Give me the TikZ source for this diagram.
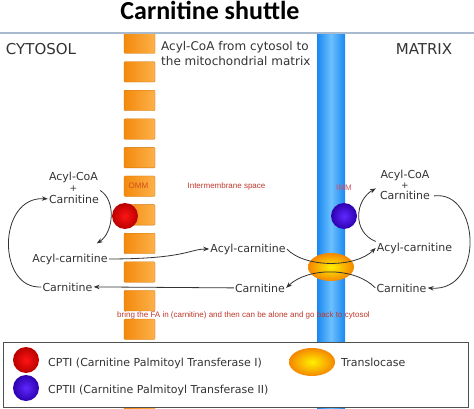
\documentclass[tikz,border=0pt]{standalone}
\usepackage{fontspec}
\setmainfont{DejaVu Sans}
\newfontfamily\titlefont{Carlito}
\newfontfamily\arialfont{Liberation Sans}
\usetikzlibrary{arrows.meta,shapes.geometric}
\definecolor{txt}{HTML}{333333}
\definecolor{redtxt}{HTML}{C0392B}
\definecolor{ommtxt}{HTML}{D0501A}
\definecolor{orangeL}{HTML}{F28A0C}
\definecolor{orangeR}{HTML}{FFB04A}
\definecolor{blueE}{HTML}{1A88F0}
\definecolor{blueM}{HTML}{6CC0FF}
\definecolor{topline}{HTML}{A9B9CE}
\tikzset{
  lbl/.style={anchor=base, inner sep=1pt, text=txt, font=\fontsize{11}{13}\selectfont},
  plus/.style={anchor=base, inner sep=0pt, text=txt, font=\fontsize{9}{10}\selectfont},
  big/.style={anchor=base, inner sep=1pt, text=txt, font=\fontsize{15}{18}\selectfont},
  note/.style={anchor=base west, inner sep=0pt, text=txt, font=\fontsize{12}{15}\selectfont},
  rednote/.style={anchor=base, inner sep=0pt, text=redtxt, font=\arialfont\fontsize{8}{10}\selectfont},
  arr/.style={draw=txt, line width=0.8pt, -{Stealth[length=6pt,width=4.5pt]}},
  sq/.style={left color=orangeL, right color=orangeR, draw=orangeL!85!black, line width=0.3pt, rounded corners=1pt},
  cptone/.style={circle, minimum size=26pt, inner sep=0pt, inner color={rgb,255:red,255;green,20;blue,20}, outer color={rgb,255:red,185;green,0;blue,0}},
  cpttwo/.style={circle, minimum size=26pt, inner sep=0pt, inner color={rgb,255:red,95;green,40;blue,255}, outer color={rgb,255:red,45;green,0;blue,175}},
  transl/.style={ellipse, minimum width=46pt, minimum height=28pt, inner sep=0pt, inner color={rgb,255:red,255;green,240;blue,0}, outer color={rgb,255:red,245;green,135;blue,0}}
}
\begin{document}
\begin{tikzpicture}[x=1pt,y=-1pt]
\useasboundingbox (0,0) rectangle (474,409);
\fill[white] (0,0) rectangle (474,409);
% membranes
\foreach \k in {0,...,13}
  \path[sq] (124,{33+28.6*\k}) rectangle (155,{53.5+28.6*\k});
\shade[left color=blueE, right color=blueE, middle color=blueM] (317,33) rectangle (345,409);
\draw[topline, line width=1.2pt] (0,33) -- (474,33);
% title and headers
\node[anchor=base, inner sep=0pt, font=\titlefont\bfseries\fontsize{26}{30}\selectfont] (title) at (210,19.5) {Carnitine shuttle};
\node[big] (cyto) at (41,55) {CYTOSOL};
\node[big] (matrix) at (424,55) {MATRIX};
\node[note] (note1) at (161,51) {Acyl-CoA from cytosol to};
\node[note] (note2) at (161,66) {the mitochondrial matrix};
% red notes
\node[rednote, text=ommtxt] (omm) at (138.5,188) {OMM};
\node[rednote, text={rgb,255:red,210;green,80;blue,100}] (imm) at (344,190) {IMM};
\node[rednote] (ims) at (226.5,189) {Intermembrane space};
\node[rednote] (bring) at (243.5,317) {bring the FA in (carnitine) and then can be alone and go back to cytosol};
% enzymes
\node[cptone] (cpt1) at (125,216) {};
\node[cpttwo] (cpt2) at (344,216) {};
\node[transl] (trans) at (331,267) {};
% labels left
\node[lbl] (Lacoa) at (73.5,181) {Acyl-CoA};
\node[plus] (Lplus) at (73.5,191.5) {+};
\node[lbl] (Lcarn) at (74,203) {Carnitine};
\node[lbl] (Lacyl) at (70,262) {Acyl-carnitine};
\node[lbl] (Lcarn2) at (67.5,291) {Carnitine};
% labels middle
\node[lbl] (Macyl) at (248,252) {Acyl-carnitine};
\node[lbl] (Mcarn) at (260,292) {Carnitine};
% labels right
\node[lbl] (Racoa) at (405,178.5) {Acyl-CoA};
\node[plus] (Rplus) at (405,189) {+};
\node[lbl] (Rcarn) at (405,200) {Carnitine};
\node[lbl] (Racyl) at (414.5,251) {Acyl-carnitine};
\node[lbl] (Rcarn2) at (401.5,292) {Carnitine};
% arrows
\draw[arr] ([shift={(0,-3)}]Lcarn.north east) .. controls (116,200) and (114,232) .. ([shift={(-12,-9)}]Lacyl.north east);
\draw[arr] (Lcarn2.west) .. controls (-3,290) and (-3,196) .. (Lcarn.west);
\draw[arr] (Lacyl.east) .. controls (185,259) and (190,249) .. (Macyl.west);
\draw[arr] (Mcarn.west) -- (Lcarn2.east);
\draw[arr] (Macyl.east) .. controls (305,268) and (355,268) .. (Racyl.west);
\draw[arr] (Rcarn2.west) .. controls (355,267) and (308,267) .. (Mcarn.east);
\draw[arr] (Racyl.north west) .. controls (352,232) and (355,200) .. ([shift={(-3,-2)}]Rcarn.north west);
\draw[arr] ([shift={(3,0)}]Rcarn.east) .. controls (480,190) and (485,292) .. (Rcarn2.east);
% legend
\node[draw={rgb,255:red,80;green,80;blue,80}, fill=white, line width=1pt, minimum width=465pt, minimum height=65pt, inner sep=0pt] (legend) at (235.5,374.5) {};
\node[cptone] (lg1) at (26,360) {};
\node[cpttwo] (lg2) at (26,388) {};
\node[transl] (lg3) at (312,362) {};
\node[lbl, anchor=base west] (lt1) at (47,366) {CPTI (Carnitine Palmitoyl Transferase I)};
\node[lbl, anchor=base west] (lt2) at (47,393) {CPTII (Carnitine Palmitoyl Transferase II)};
\node[lbl, anchor=base west] (lt3) at (340,366) {Translocase};
\end{tikzpicture}
\end{document}
